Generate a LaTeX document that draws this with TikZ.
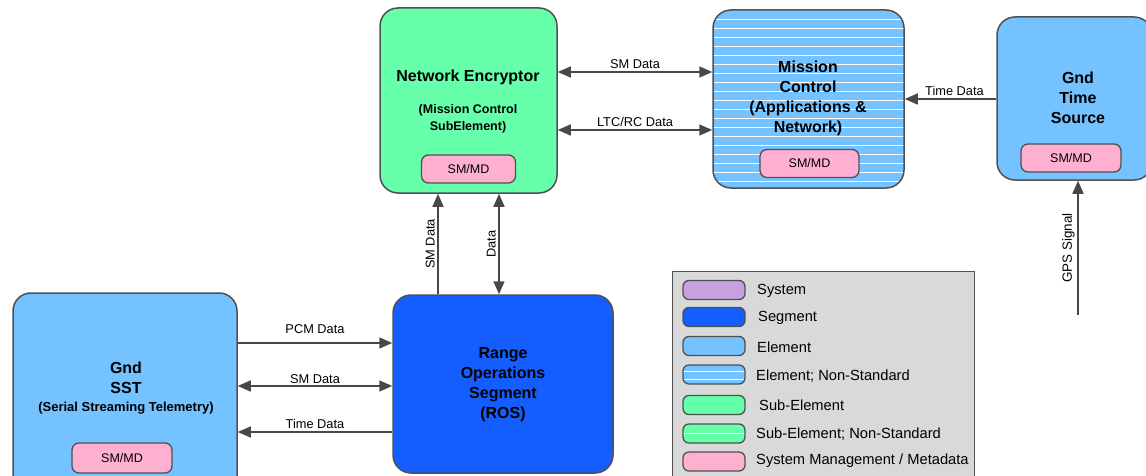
\documentclass[tikz,border=0pt]{standalone}
\usepackage{fontspec}
\setmainfont{Liberation Sans}
\usetikzlibrary{arrows.meta,calc}

\definecolor{edge}{RGB}{80,80,80}
\definecolor{wire}{RGB}{72,72,72}
\definecolor{elemblue}{RGB}{116,194,255}
\definecolor{segblue}{RGB}{20,94,255}
\definecolor{subgreen}{RGB}{102,255,170}
\definecolor{smpink}{RGB}{255,176,208}
\definecolor{syspurple}{RGB}{200,160,224}
\definecolor{keygray}{RGB}{217,217,217}

\begin{document}
\begin{tikzpicture}[x=1pt,y=-1pt,
  >={Triangle[length=13pt,width=11pt]},
  unit/.style={draw=edge,line width=1.5pt,rounded corners=18pt,inner sep=0pt},
  stripes/.style={path picture={
      \foreach \k in {1,...,#1}{
        \draw[white,line width=0.9pt]
          ($(path picture bounding box.north west)+(0,\k*9)$) --
          ($(path picture bounding box.north east)+(0,\k*9)$);}}},
  pill/.style={draw=edge,line width=1.3pt,fill=smpink,rounded corners=7pt,
    minimum width=94pt,minimum height=28pt,inner sep=0pt,
    font=\fontsize{12.5}{14}\selectfont},
  title/.style={align=center,inner sep=0pt,font=\bfseries\fontsize{16}{20}\selectfont},
  subtitle/.style={align=center,inner sep=0pt,font=\bfseries\fontsize{12.5}{16.5}\selectfont},
  link/.style={draw=wire,line width=1.5pt},
  lab/.style={font=\fontsize{12.8}{14}\selectfont,inner sep=2.5pt},
  swatch/.style={draw=edge,line width=1.3pt,rounded corners=6pt,
    minimum width=62pt,minimum height=19pt,inner sep=0pt},
  keytext/.style={anchor=west,inner sep=0pt,font=\fontsize{14.7}{16}\selectfont}
]
\useasboundingbox (0,0) rectangle (1146,476);
\clip (0,0) rectangle (1146,476);

% ---- units ----
\node[unit,fill=subgreen,minimum width=177pt,minimum height=185pt] (NE) at (468.5,100.5) {};
\node[unit,fill=elemblue,stripes=19,minimum width=191pt,minimum height=178pt] (MC) at (808.5,99) {};
\node[unit,fill=elemblue,minimum width=155pt,minimum height=163pt] (GTS) at (1074.5,98.5) {};
\node[unit,fill=elemblue,minimum width=224pt,minimum height=207pt] (SST) at (125,396.5) {};
\node[unit,fill=segblue,minimum width=220pt,minimum height=178pt] (ROS) at (503,384) {};

% ---- unit texts ----
\node[title] (NEt) at (468,77) {Network Encryptor};
\node[subtitle] (NEs) at (468,119) {(Mission Control\\SubElement)};
\node[title] (MCt) at (808,98) {Mission\\Control\\(Applications \&\\Network)};
\node[title] (GTSt) at (1078,98) {Gnd\\Time\\Source};
\node[title] (SSTt) at (126,377.5) {Gnd\\SST};
\node[subtitle,font=\bfseries\fontsize{13}{15}\selectfont] (SSTs) at (126,408) {(Serial Streaming Telemetry)};
\node[title] (ROSt) at (503,385) {Range\\Operations\\Segment\\(ROS)};

% ---- SM/MD blocks ----
\node[pill] (NEp) at (468.5,169) {SM/MD};
\node[pill,minimum width=99pt] (MCp) at (809.5,163.5) {SM/MD};
\node[pill,minimum width=100pt] (GTSp) at (1071,158) {SM/MD};
\node[pill,minimum width=100pt,minimum height=30pt] (SSTp) at (122,458) {SM/MD};

% ---- helper rows / columns for connectors ----
\coordinate (ySMtop) at (0,72);
\coordinate (yLTC) at (0,130);
\coordinate (yTime) at (0,99);
\coordinate (yPCM) at (0,343);
\coordinate (ySMlow) at (0,386);
\coordinate (yTlow) at (0,432);
\coordinate (xSMv) at (438,0);
\coordinate (xDv) at (499,0);
\coordinate (gps) at (1078,315);

% ---- connectors ----
\draw[link,<->] (NE.east |- ySMtop) -- node[lab,above] (l1) {SM Data} (MC.west |- ySMtop);
\draw[link,<->] (NE.east |- yLTC) -- node[lab,above] (l2) {LTC/RC Data} (MC.west |- yLTC);
\draw[link,->] (GTS.west |- yTime) -- node[lab,above,xshift=4pt] (l3) {Time Data} (MC.east |- yTime);
\draw[link,->] (gps) -- node[lab,above,sloped,font=\fontsize{13.4}{15}\selectfont] (l4) {GPS Signal} (GTS.south -| gps);
\draw[link,->] (ROS.north -| xSMv) -- node[lab,above,sloped] (l5) {SM Data} (NE.south -| xSMv);
\draw[link,<->] (ROS.north -| xDv) -- node[lab,above,sloped] (l6) {Data} (NE.south -| xDv);
\draw[link,->] (SST.east |- yPCM) -- node[lab,above,yshift=6pt] (l7) {PCM Data} (ROS.west |- yPCM);
\draw[link,<->] (SST.east |- ySMlow) -- node[lab,above,yshift=-1pt] (l8) {SM Data} (ROS.west |- ySMlow);
\draw[link,->] (ROS.west |- yTlow) -- node[lab,above] (l9) {Time Data} (SST.east |- yTlow);

% ---- legend ----
\node[draw=edge,line width=1.3pt,fill=keygray,inner sep=0pt,anchor=north west,
  minimum width=302pt,minimum height=230pt] (key) at (672,271) {};
\node[swatch,fill=syspurple] (k1) at (714,290) {};
\node[swatch,fill=segblue] (k2) at (714,317) {};
\node[swatch,fill=elemblue] (k3) at (714,346) {};
\node[swatch,fill=elemblue,path picture={
    \draw[white,line width=0.8pt] ($(path picture bounding box.north west)+(0,6)$) -- ($(path picture bounding box.north east)+(0,6)$);
    \draw[white,line width=0.8pt] ($(path picture bounding box.north west)+(0,14)$) -- ($(path picture bounding box.north east)+(0,14)$);}] (k4) at (714,374.5) {};
\node[swatch,fill=subgreen] (k5) at (714,405) {};
\node[swatch,fill=subgreen,path picture={
    \draw[white,line width=0.8pt] ($(path picture bounding box.north west)+(0,9.5)$) -- ($(path picture bounding box.north east)+(0,9.5)$);}] (k6) at (714,433.5) {};
\node[swatch,fill=smpink] (k7) at (714,461.5) {};

\node[keytext] (t1) at (757,291) {System};
\node[keytext] (t2) at (758,318) {Segment};
\node[keytext] (t3) at (757,347) {Element};
\node[keytext] (t4) at (756,376) {Element; Non-Standard};
\node[keytext] (t5) at (759,405) {Sub-Element};
\node[keytext] (t6) at (756,434) {Sub-Element; Non-Standard};
\node[keytext] (t7) at (756,461) {System Management / Metadata};
\end{tikzpicture}
\end{document}
